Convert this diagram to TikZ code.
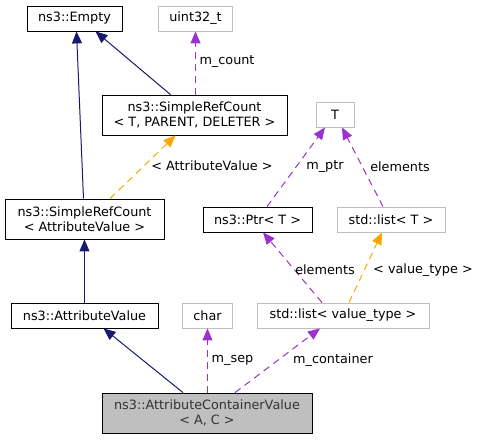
\documentclass[tikz,border=0pt]{standalone}
\usepackage{fontspec}
\setmainfont{DejaVu Sans}
\usetikzlibrary{arrows.meta}
\definecolor{inhcol}{HTML}{191970}
\definecolor{usecol}{HTML}{9A32CD}
\definecolor{tplcol}{HTML}{FFA500}
\definecolor{extcol}{HTML}{BFBFBF}
\tikzset{
  cls/.style={draw=black, line width=0.8pt, inner sep=0pt, align=center, minimum height=25pt},
  ext/.style={cls, draw=extcol},
  cur/.style={cls, fill=extcol, text=black!80},
  lbl/.style={inner sep=0pt},
  tip/.style={-{Triangle[length=12pt,width=10pt]}},
  inh/.style={tip, color=inhcol, line width=1pt},
  use/.style={tip, color=usecol, line width=1pt, dash pattern=on 7pt off 5pt},
  tpl/.style={tip, color=tplcol, line width=1pt, dash pattern=on 7pt off 5pt}
}
\begin{document}
\begin{tikzpicture}[x=1pt, y=-1pt, font=\fontsize{12.8}{15}\selectfont]
\useasboundingbox (0,0) rectangle (481,439);
% classes
\node[cls, minimum width=95pt] (empty) at (74.5,18.5) {ns3::Empty};
\node[ext, minimum width=74pt] (uint) at (195.5,18.5) {uint32\_t};
\node[cls, minimum width=185pt, minimum height=40pt] (srct) at (194.5,115) {ns3::SimpleRefCount\\< T, PARENT, DELETER >};
\node[ext, minimum width=38pt] (T) at (335,114.5) {T};
\node[cls, minimum width=159pt, minimum height=40pt] (srcav) at (84.5,219) {ns3::SimpleRefCount\\< AttributeValue >};
\node[cls, minimum width=109pt] (ptr) at (257.5,219.5) {ns3::Ptr< T >};
\node[ext, minimum width=108pt] (lt) at (391,219.5) {std::list< T >};
\node[cls, minimum width=147pt] (av) at (84.5,315.5) {ns3::AttributeValue};
\node[ext, minimum width=50pt] (char) at (207.5,315.5) {char};
\node[ext, minimum width=172pt] (lvt) at (343,315.5) {std::list< value\_type >};
\node[cur, minimum width=210pt, minimum height=40pt] (acv) at (207,413) {ns3::AttributeContainerValue\\< A, C >};
% links
\draw[inh] ([xshift=-1pt]srcav.north) -- ([xshift=2pt]empty.south);
\draw[inh] ([xshift=-24pt]srct.north) -- ([xshift=21pt]empty.south);
\draw[use] ([xshift=1pt]srct.north) -- (uint.south);
\draw[tpl] ([xshift=25.5pt]srcav.north) -- ([xshift=-19pt]srct.south);
\draw[inh] (av.north) -- (srcav.south);
\draw[inh] ([xshift=-24pt]acv.north) -- ([xshift=19pt]av.south);
\draw[use] ([xshift=0.5pt]acv.north) -- (char.south);
\draw[use] ([xshift=28pt]acv.north) -- ([xshift=-23pt]lvt.south);
\draw[use] ([xshift=-21pt]lvt.north) -- ([xshift=5.5pt]ptr.south);
\draw[tpl] ([xshift=6pt]lvt.north) -- ([xshift=-9pt]lt.south);
\draw[use] ([xshift=9.5pt]ptr.north) -- ([xshift=-10pt]T.south);
\draw[use] ([xshift=-8pt]lt.north) -- ([xshift=7pt]T.south);
% labels
\node[lbl] (lcount) at (227,62) {m\_count};
\node[lbl] (lav) at (212,166) {< AttributeValue >};
\node[lbl] (lptr) at (325,167) {m\_ptr};
\node[lbl] (lelt) at (400,167) {elements};
\node[lbl] (lelv) at (325,270) {elements};
\node[lbl] (lvtype) at (423,270) {< value\_type >};
\node[lbl] (lsep) at (232.5,360) {m\_sep};
\node[lbl] (lcont) at (333,360) {m\_container};
\end{tikzpicture}
\end{document}
